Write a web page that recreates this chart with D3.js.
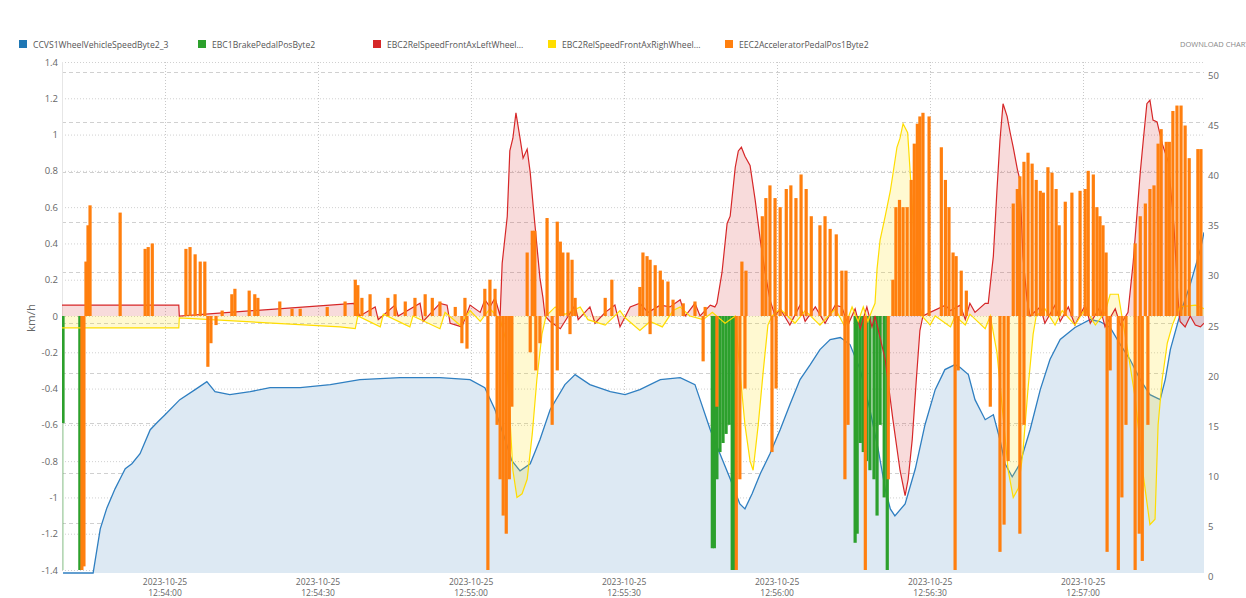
<!DOCTYPE html>
<html>
<head>
<meta charset="utf-8">
<script src="https://cdn.jsdelivr.net/npm/d3@7"></script>
<style>
  body { margin: 0; background: #fff; font-family: "Open Sans", sans-serif; overflow: hidden; }
</style>
</head>
<body>
<div id="vis"></div>
<script>
// series labels (legend order)
var seriesNames = ['CCVS1WheelVehicleSpeedByte2_3', 'EBC1BrakePedalPosByte2', 'EBC2RelSpeedFrontAxLeftWheel...', 'EBC2RelSpeedFrontAxRighWheel...', 'EEC2AcceleratorPedalPos1Byte2'];
var seriesColors = ['#1f77b4', '#2ca02c', '#d62728', '#ffdd00', '#ff7f0e'];

// all times are seconds after 2023-10-25 12:53:40
// vehicle speed, km/h (right axis)
var speedKmh = [[0,0],[5.9,0],[7.3,4.4],[8.6,6.5],[10.2,8.4],[11.2,9.4],[12.2,10.4],[13.5,10.9],[15.1,11.9],[17.1,14.3],[18.6,15.1],[20,15.8],[22.9,17.3],[25.9,18.3],[28.2,19.1],[29.8,18.1],[32.7,17.8],[36.7,18.1],[40.6,18.5],[46.5,18.5],[52.4,18.8],[58.2,19.3],[66.1,19.5],[73.9,19.5],[79.8,19.3],[82.7,18.5],[84.7,16.3],[86.7,13.3],[88,11.2],[89.6,10.2],[91.6,10.9],[93.5,13.3],[95.5,16.3],[98.4,18.8],[100.4,19.8],[103.3,18.8],[107.3,18.1],[110.2,17.8],[113.1,18.3],[117.1,19.3],[121,19.5],[123.9,18.8],[124.9,17.3],[126.9,14.3],[128.8,11.9],[130.8,9.4],[132.7,6.9],[133.7,6.4],[135.1,7.9],[136.7,9.9],[138.6,11.9],[140.6,14.3],[142.5,16.8],[144.5,19.3],[146.5,20.8],[148.4,22.3],[150.4,23.3],[152.4,23.5],[154.3,22.8],[156.3,20.3],[158.2,16.3],[159.8,12.4],[161.2,8.4],[162.2,6.4],[163.1,5.7],[165.1,6.9],[167.1,10.4],[169,14.8],[171,18.3],[172.9,20.3],[174.9,20.8],[175.9,20.5],[177.5,19.8],[178.8,17.3],[180.8,15.3],[182.4,15.8],[183.7,13.3],[184.7,10.9],[186.1,9.6],[187.6,10.9],[189.6,14.3],[191.6,18.3],[193.5,21.3],[195.5,23.3],[198.4,24.5],[201.4,25.3],[203.3,25.1],[205.3,24.5],[207.3,22.8],[209.2,21.3],[211.2,19.3],[213.1,17.8],[215.1,17.3],[216.1,19.3],[217.1,22.3],[219,25.8],[221,28.8],[223,32.3],[223.7,34]];

// brake pedal (left axis, drawn negative)
var brakePos = [[0,-0.59],[3.3,-1.4],[127.3,-1.28],[127.7,-1.28],[128.2,-0.9],[128.8,-0.75],[129.4,-0.7],[130,-0.65],[130.6,-0.6],[131.2,-1.4],[131.6,-1.4],[155.3,-1.25],[155.7,-1.2],[156.3,-0.7],[156.9,-0.75],[157.5,-0.8],[158.2,-0.85],[159,-0.9],[159.6,-1.1],[160.2,-0.6],[161,-1.0],[161.6,-1.4]];

// relative speed front axle left wheel (left axis)
var leftWheelRel = [[-0.2,0.06],[22.7,0.06],[22.8,0],[57,0.07],[58.2,0],[61.2,0.05],[61.8,-0.02],[65.1,0.06],[65.7,0],[70,0.07],[70.6,-0.03],[73.9,0.07],[75.3,0.06],[75.9,-0.04],[78.2,-0.06],[79.8,0.06],[81.8,0.02],[82.7,0.09],[83.7,0.05],[84.7,0.1],[85.7,0],[86.1,0.29],[87.1,0.55],[87.6,0.91],[88.2,0.98],[88.8,1.12],[89.6,0.98],[90.2,0.87],[91,0.92],[91.6,0.79],[92.2,0.6],[92.5,0.51],[93.1,0.33],[93.5,0.21],[94.1,0.1],[94.5,0],[95.5,-0.03],[97.5,-0.07],[100.4,0.06],[101,-0.02],[103.3,0.05],[104.3,-0.04],[106.3,0.02],[108.2,0.06],[109.2,-0.06],[111.2,0.05],[113.1,0.07],[114.7,0.02],[117.1,0.06],[119,0.05],[121,0.09],[122,0],[123.9,0.07],[124.9,0],[126.9,0.06],[127.8,0.05],[128.2,0.07],[129.2,0.24],[130.2,0.51],[130.8,0.55],[131.8,0.82],[132.4,0.91],[133,0.93],[133.7,0.88],[134.7,0.83],[135.7,0.64],[136.7,0.42],[137.6,0.25],[138.6,0.09],[139.6,0],[140.6,0.04],[142.5,-0.05],[144.5,0.06],[145.5,-0.03],[147.5,0.05],[149.4,-0.04],[151.4,0.06],[152.7,0.05],[153.9,-0.05],[155.3,0.04],[156.3,-0.07],[157.6,0.05],[158.6,-0.06],[159.2,0],[161.2,-0.24],[162.7,-0.57],[164.1,-0.85],[165.1,-0.99],[165.7,-0.9],[166.5,-0.68],[167.3,-0.35],[168,-0.08],[168.6,0],[170,0.02],[173,0.06],[174,0.03],[175.9,0.06],[176.9,-0.02],[177.8,0.07],[178.8,0.02],[180.8,0.07],[181.4,0.07],[182.4,0.33],[183.1,0.69],[183.7,0.97],[184.3,1.17],[185.1,1.1],[185.7,1.01],[186.3,0.93],[187.1,0.81],[187.6,0.75],[188.2,0.33],[189,0.09],[189.6,0],[191.6,0.05],[192.5,-0.04],[194.5,0.06],[195.5,-0.03],[197.1,0.05],[198.4,-0.05],[200.4,0.06],[201.4,-0.04],[203.3,0.05],[204.3,-0.06],[206.3,0.04],[207.3,-0.05],[208.8,0.02],[209.8,0.29],[211.2,0.79],[211.8,0.97],[212.5,1.17],[213.1,1.19],[213.7,1.08],[214.5,1.07],[215.5,0.95],[216.7,0.85],[217.8,0.5],[218.6,0.1],[219,-0.03],[220,-0.06],[221,0],[222,-0.05],[223,-0.06],[223.7,-0.04]];

// relative speed front axle right wheel (left axis)
var rightWheelRel = [[-0.2,-0.066],[22.7,-0.066],[22.8,-0.01],[54.3,-0.06],[57.3,-0.07],[57.8,0],[62.2,-0.06],[62.8,0.01],[68,-0.06],[68.6,0],[73.9,-0.07],[74.9,0.02],[77.8,-0.05],[79.8,0.03],[81.8,-0.03],[83.7,0.04],[85.7,-0.02],[86.7,-0.12],[87.6,-0.55],[88.2,-0.85],[89,-1.0],[90,-0.98],[91,-0.9],[92,-0.65],[92.9,-0.35],[93.9,-0.1],[94.7,0],[96.5,0.05],[98.4,0.01],[101.4,0.05],[102.9,-0.02],[106.3,-0.05],[109.2,0.03],[110.2,-0.01],[113.1,-0.08],[115.1,-0.03],[117.5,-0.06],[119.6,0.03],[121,0.05],[122.9,0],[125.5,-0.02],[127.3,0.02],[129.8,-0.04],[131.8,0],[132.7,-0.3],[133.7,-0.6],[134.7,-0.8],[135.3,-0.85],[136.3,-0.6],[137.3,-0.3],[138.2,-0.05],[139,0],[140.6,0.04],[143.5,-0.04],[145.5,0.03],[148.4,-0.05],[151.4,0.04],[153.3,-0.06],[154.7,0.05],[155.9,-0.03],[156.9,0.05],[157.8,-0.03],[158.6,0.03],[159.2,0.07],[159.6,0.26],[160.2,0.42],[161.2,0.55],[162.2,0.69],[162.7,0.78],[163.5,0.93],[164.1,0.98],[164.7,1.06],[165.6,1.01],[166.1,0.79],[166.7,0.51],[167.5,0.14],[168.4,0],[170,-0.05],[171,0],[174,-0.06],[174.9,0],[176.9,-0.05],[177.8,0.01],[180.8,-0.07],[181.8,0],[183.1,-0.2],[184.3,-0.55],[185.3,-0.85],[186.3,-1.0],[187.3,-0.95],[188.2,-0.75],[189.2,-0.4],[190.2,-0.1],[190.8,0],[192.5,0.04],[194.5,-0.05],[195.9,0.03],[198.4,-0.05],[200.4,0.04],[202.4,-0.05],[204.3,0.02],[205.3,0.12],[206.9,0.12],[207.6,0],[208.8,-0.2],[210.2,-0.45],[211.8,-0.88],[213.1,-1.15],[214.1,-1.12],[214.7,-0.6],[215.5,-0.35],[216.5,-0.15],[217.5,-0.05],[218.2,0],[219,0.05],[222,0.06],[223.7,0.04]];

// accelerator pedal (left axis, columns)
var accelPos = [[4.5,0.3],[4.9,0.5],[5.3,0.61],[11.2,0.57],[16.1,0.37],[16.7,0.38],[17.5,0.4],[24.1,0.37],[24.9,0.38],[25.9,0.34],[26.9,0.3],[27.8,0.3],[31.2,0.03],[33.1,0.12],[33.7,0.15],[36.5,0.14],[37.6,0.12],[38.2,0.1],[42.5,0.08],[44.9,0.04],[46.5,0.04],[51.8,0.05],[55.3,0.08],[57.3,0.2],[57.8,0.17],[58.6,0.1],[60.2,0.12],[63.7,0.1],[65.1,0.12],[67.1,0.08],[69,0.1],[71,0.12],[72.4,0.1],[73.9,0.08],[76.9,0.05],[78.8,0.1],[82.7,0.15],[83.7,0.2],[84.7,0.15],[91,0.35],[92,0.47],[92.5,0.47],[94.9,0.54],[96.9,0.52],[97.5,0.41],[98,0.35],[99,0.35],[99.8,0.31],[100.4,0.1],[106.3,0.1],[107.6,0.2],[113.1,0.16],[113.7,0.35],[114.5,0.33],[115.1,0.31],[116.1,0.28],[117.1,0.25],[117.5,0.2],[118.6,0.19],[119.6,0.09],[121.6,0.07],[123.9,0.08],[125.9,0.05],[133.1,0.3],[133.9,0.25],[137.1,0.55],[137.8,0.65],[138.6,0.72],[139.6,0.65],[140.6,0.6],[141.8,0.7],[142.7,0.72],[143.7,0.65],[144.7,0.78],[145.7,0.7],[146.7,0.55],[148.4,0.5],[149.4,0.55],[150.4,0.48],[151.6,0.45],[152.7,0.25],[153.5,0.25],[162.7,0.2],[163.3,0.6],[164,0.64],[164.7,0.6],[165.5,0.6],[166.3,0.75],[166.9,0.95],[167.5,1.06],[168,1.1],[168.6,1.12],[169.8,1.1],[172.2,0.93],[173,0.75],[173.7,0.6],[174.5,0.35],[175.1,0.33],[176.1,0.25],[177.1,0.14],[186.3,0.62],[187.1,0.7],[187.6,0.77],[188.4,0.85],[189.2,0.9],[190,0.84],[190.8,0.75],[191.6,0.69],[192.2,0.68],[193.1,0.82],[193.9,0.79],[194.7,0.7],[195.3,0.5],[196.5,0.63],[197.8,0.68],[199.4,0.69],[200.4,0.7],[201,0.8],[202,0.78],[202.7,0.6],[203.3,0.55],[203.9,0.5],[204.5,0.35],[210.2,0.4],[211.2,0.55],[212.2,0.62],[213.1,0.7],[213.9,0.72],[214.7,0.95],[215.3,1.03],[216.3,0.96],[216.9,0.96],[217.6,1.13],[218.4,1.16],[219.2,1.16],[220,1.05],[220.8,0.87],[222.5,0.92],[223.1,0.92],
  [3.7,-1.4],[4.1,-1.38],[28.4,-0.28],[29,-0.15],[30,-0.05],[78.2,-0.15],[79.2,-0.18],[83.3,-1.4],[85.1,-0.6],[85.7,-0.9],[86.3,-1.1],[86.9,-1.2],[87.5,-0.9],[88,-0.5],[91.6,-0.2],[92.7,-0.3],[93.5,-0.15],[95.9,-0.6],[96.9,-0.3],[99.4,-0.1],[115.1,-0.1],[125.5,-0.25],[128.2,-0.5],[132,-1.4],[132.7,-0.9],[133.7,-0.4],[139,-0.75],[139.8,-0.4],[153.3,-0.9],[153.9,-0.6],[157.3,-1.4],[161.8,-0.9],[174.9,-1.4],[175.5,-0.3],[181.8,-0.5],[183.7,-1.3],[184.5,-1.15],[185.3,-0.8],[187.6,-1.2],[188.4,-0.6],[204.7,-1.3],[205.3,-0.3],[206.9,-1.4],[207.6,-1.0],[208.4,-0.6],[210.2,-1.4],[211,-1.2],[211.6,-1.35],[212.7,-0.6]];

var leftTicks = [-1.4, -1.2, -1, -0.8, -0.6, -0.4, -0.2, 0, 0.2, 0.4, 0.6, 0.8, 1, 1.2, 1.4];
var rightTicks = [0, 5, 10, 15, 20, 25, 30, 35, 40, 45, 50];

var width = 1246, height = 598;
var plot = {left: 62, right: 1204, top: 62, bottom: 570};
var start = new Date(2023, 9, 25, 12, 53, 40);
function tt(s) { return new Date(start.getTime() + s * 1000); }

var x = d3.scaleTime()
  .domain([tt(-0.2), tt(223.7)])
  .range([plot.left, plot.right]);
var yL = d3.scaleLinear().domain([-1.4, 1.4]).range([plot.bottom, plot.top]);
var yR = d3.scaleLinear().domain([0, 50]).range([573, 72]);

var svg = d3.select('#vis').append('svg')
  .attr('width', width)
  .attr('height', height)
  .style('font-family', '"Open Sans", sans-serif');

svg.append('clipPath').attr('id', 'clip')
  .append('rect')
  .attr('x', plot.left).attr('y', plot.top - 2)
  .attr('width', plot.right - plot.left).attr('height', plot.bottom - plot.top + 6);

// grid: left axis dotted, right axis dashed, time dotted
var grid = svg.append('g');
grid.selectAll('.gl').data(leftTicks).enter().append('line')
  .attr('x1', plot.left).attr('x2', plot.right)
  .attr('y1', function(d) { return yL(d) + 0.5; })
  .attr('y2', function(d) { return yL(d) + 0.5; })
  .attr('stroke', '#d0d0d0').attr('stroke-dasharray', '1,2');
grid.selectAll('.gr').data(rightTicks.slice(1)).enter().append('line')
  .attr('x1', plot.left).attr('x2', plot.right)
  .attr('y1', function(d) { return Math.round(yR(d)) + 0.5; })
  .attr('y2', function(d) { return Math.round(yR(d)) + 0.5; })
  .attr('stroke', '#d0d0d0').attr('stroke-dasharray', '4,3');

var timeTicks = x.ticks(d3.timeSecond.every(30));
grid.selectAll('.gx').data(timeTicks).enter().append('line')
  .attr('x1', function(d) { return Math.round(x(d)) + 0.5; })
  .attr('x2', function(d) { return Math.round(x(d)) + 0.5; })
  .attr('y1', plot.top).attr('y2', plot.bottom)
  .attr('stroke', '#c8c8c8').attr('stroke-dasharray', '1,2');

svg.append('line')
  .attr('x1', plot.left + 0.5).attr('x2', plot.left + 0.5)
  .attr('y1', plot.top).attr('y2', plot.bottom)
  .attr('stroke', '#e6e6e6');

var g = svg.append('g').attr('clip-path', 'url(#clip)');

// speed area (right axis)
var speedArea = d3.area()
  .x(function(d) { return x(tt(d[0])); })
  .y0(yR(0))
  .y1(function(d) { return yR(d[1]); });
var speedLine = d3.line()
  .x(function(d) { return x(tt(d[0])); })
  .y(function(d) { return yR(d[1]); });
g.append('path').datum(speedKmh).attr('d', speedArea).attr('fill', '#dde9f3');
g.append('path').datum(speedKmh).attr('d', speedLine)
  .attr('fill', 'none').attr('stroke', '#2f7fc1').attr('stroke-width', 1.3);

// relative wheel speeds as areas from zero
var relArea = d3.area()
  .x(function(d) { return x(tt(d[0])); })
  .y0(yL(0))
  .y1(function(d) { return yL(d[1]); });
var relLine = d3.line()
  .x(function(d) { return x(tt(d[0])); })
  .y(function(d) { return yL(d[1]); });

g.append('path').datum(leftWheelRel).attr('d', relArea)
  .attr('fill', '#d62728').attr('fill-opacity', 0.17);
g.append('path').datum(rightWheelRel).attr('d', relArea)
  .attr('fill', '#ffdd00').attr('fill-opacity', 0.18);

// faint brake trace at the very start
g.append('rect')
  .attr('x', x(tt(0)) - 1).attr('width', 2)
  .attr('y', yL(-0.59)).attr('height', yL(-1.4) - yL(-0.59))
  .attr('fill', '#2ca02c').attr('fill-opacity', 0.25);

// brake columns
g.selectAll('.brake').data(brakePos).enter().append('rect')
  .attr('x', function(d) { return x(tt(d[0])) - 1.6; })
  .attr('width', 3.2)
  .attr('y', yL(0))
  .attr('height', function(d) { return yL(d[1]) - yL(0); })
  .attr('fill', '#2ca02c');

g.append('path').datum(leftWheelRel).attr('d', relLine)
  .attr('fill', 'none').attr('stroke', '#d62728').attr('stroke-width', 1.2);
g.append('path').datum(rightWheelRel).attr('d', relLine)
  .attr('fill', 'none').attr('stroke', '#ffdd00').attr('stroke-width', 1.2);

// accelerator columns
g.selectAll('.accel').data(accelPos).enter().append('rect')
  .attr('x', function(d) { return x(tt(d[0])) - 1.6; })
  .attr('width', 3.2)
  .attr('y', function(d) { return yL(Math.max(0, d[1])); })
  .attr('height', function(d) { return Math.abs(yL(d[1]) - yL(0)); })
  .attr('fill', '#ff7f0e');

// axes labels
var fmtL = function(d) { return String(+d.toFixed(1)); };
svg.append('g').selectAll('text').data(leftTicks).enter().append('text')
  .attr('x', 58).attr('y', function(d) { return yL(d) + 3.5; })
  .attr('text-anchor', 'end')
  .attr('font-size', 9.5).attr('fill', '#666')
  .text(fmtL);

svg.append('g').selectAll('text').data(rightTicks).enter().append('text')
  .attr('x', 1208).attr('y', function(d) { return yR(d) + 7; })
  .attr('font-size', 9.5).attr('fill', '#666')
  .text(function(d) { return d; });

svg.append('text')
  .attr('transform', 'translate(35,318) rotate(-90)')
  .attr('text-anchor', 'middle')
  .attr('font-size', 11.5).attr('fill', '#666')
  .text('km/h');

var fmtDate = d3.timeFormat('%Y-%m-%d'), fmtTime = d3.timeFormat('%H:%M:%S');
var xl = svg.append('g').selectAll('g').data(timeTicks).enter().append('g')
  .attr('transform', function(d) { return 'translate(' + x(d) + ',0)'; });
xl.append('text').attr('y', 585).attr('text-anchor', 'middle')
  .attr('font-size', 8.5).attr('fill', '#666').text(fmtDate);
xl.append('text').attr('y', 596).attr('text-anchor', 'middle')
  .attr('font-size', 8.5).attr('fill', '#666').text(fmtTime);

// legend
var legendX = [19, 198, 373, 548, 725];
var lg = svg.append('g').selectAll('g').data(seriesNames).enter().append('g')
  .attr('transform', function(d, i) { return 'translate(' + legendX[i] + ',40)'; });
lg.append('rect').attr('width', 8).attr('height', 8)
  .attr('fill', function(d, i) { return seriesColors[i]; });
lg.append('text').attr('x', 14).attr('y', 8)
  .attr('font-size', 8.6).attr('fill', '#555')
  .text(function(d) { return d; });

svg.append('text').attr('x', 1180).attr('y', 47)
  .attr('font-size', 7.5).attr('fill', '#888')
  .text('DOWNLOAD CHART');
</script>
</body>
</html>
